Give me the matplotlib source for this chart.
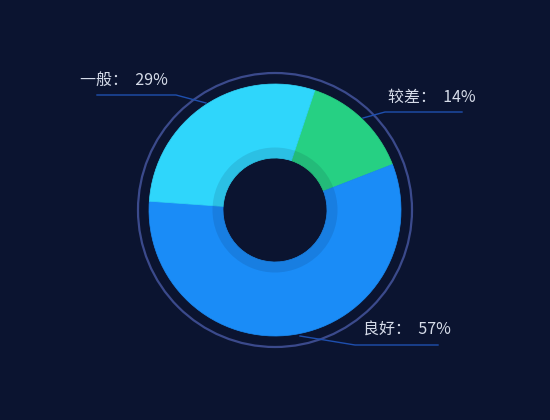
import matplotlib
matplotlib.use("Agg")
import matplotlib.pyplot as plt
from matplotlib.patches import Circle, Wedge

plt.rcParams['font.family'] = ['Noto Sans CJK SC', 'DejaVu Sans']

categories = ['较差', '良好', '一般']
values = [14, 57, 29]
colors = ['#26d083', '#1a8cf7', '#2fd6fb']

BG = '#0b1430'
W, H = 550, 420
fig = plt.figure(figsize=(5.5, 4.2), dpi=100)
fig.patch.set_facecolor(BG)
ax = fig.add_axes([0, 0, 1, 1])
ax.set_facecolor(BG)

cx, cy = 275, H - 210
R_out, R_in = 126, 52

# outer decorative ring
ax.add_patch(Circle((cx, cy), 137, fill=False, ec='#3b4a8c', lw=1.6))

wedges, _ = ax.pie(values, colors=colors, startangle=71.6, counterclock=False,
                   center=(cx, cy), radius=R_out,
                   wedgeprops=dict(width=R_out - R_in, linewidth=0.5))
for w, c in zip(wedges, colors):
    w.set_edgecolor(c)
ax.set_xlim(0, W)
ax.set_ylim(0, H)
ax.set_aspect('equal')
ax.axis('off')

# inner shaded band
ax.add_patch(Wedge((cx, cy), 62.5, 0, 360, width=10.5, facecolor=BG, alpha=0.11, lw=0))

# labels with leader lines (pixel coords, converted)
labels = [f'{c}：  {v}%' for c, v in zip(categories, values)]
text_pos = [(388, 97), (363, 330), (80, 80)]
leaders = [
    [(363, 118), (385, 112), (462, 112)],
    [(300, 336), (355, 345), (438, 345)],
    [(206, 103), (176, 95), (97, 95)],
]
for lab, (tx, ty), pts in zip(labels, text_pos, leaders):
    xs = [p[0] for p in pts]
    ys = [H - p[1] for p in pts]
    ax.plot(xs, ys, color='#1e4fae', lw=1.0)
    ax.text(tx, H - ty, lab, color='#d5dbe8', fontsize=11.5, ha='left', va='center')

fig.savefig('out.png', dpi=100, facecolor=BG)
